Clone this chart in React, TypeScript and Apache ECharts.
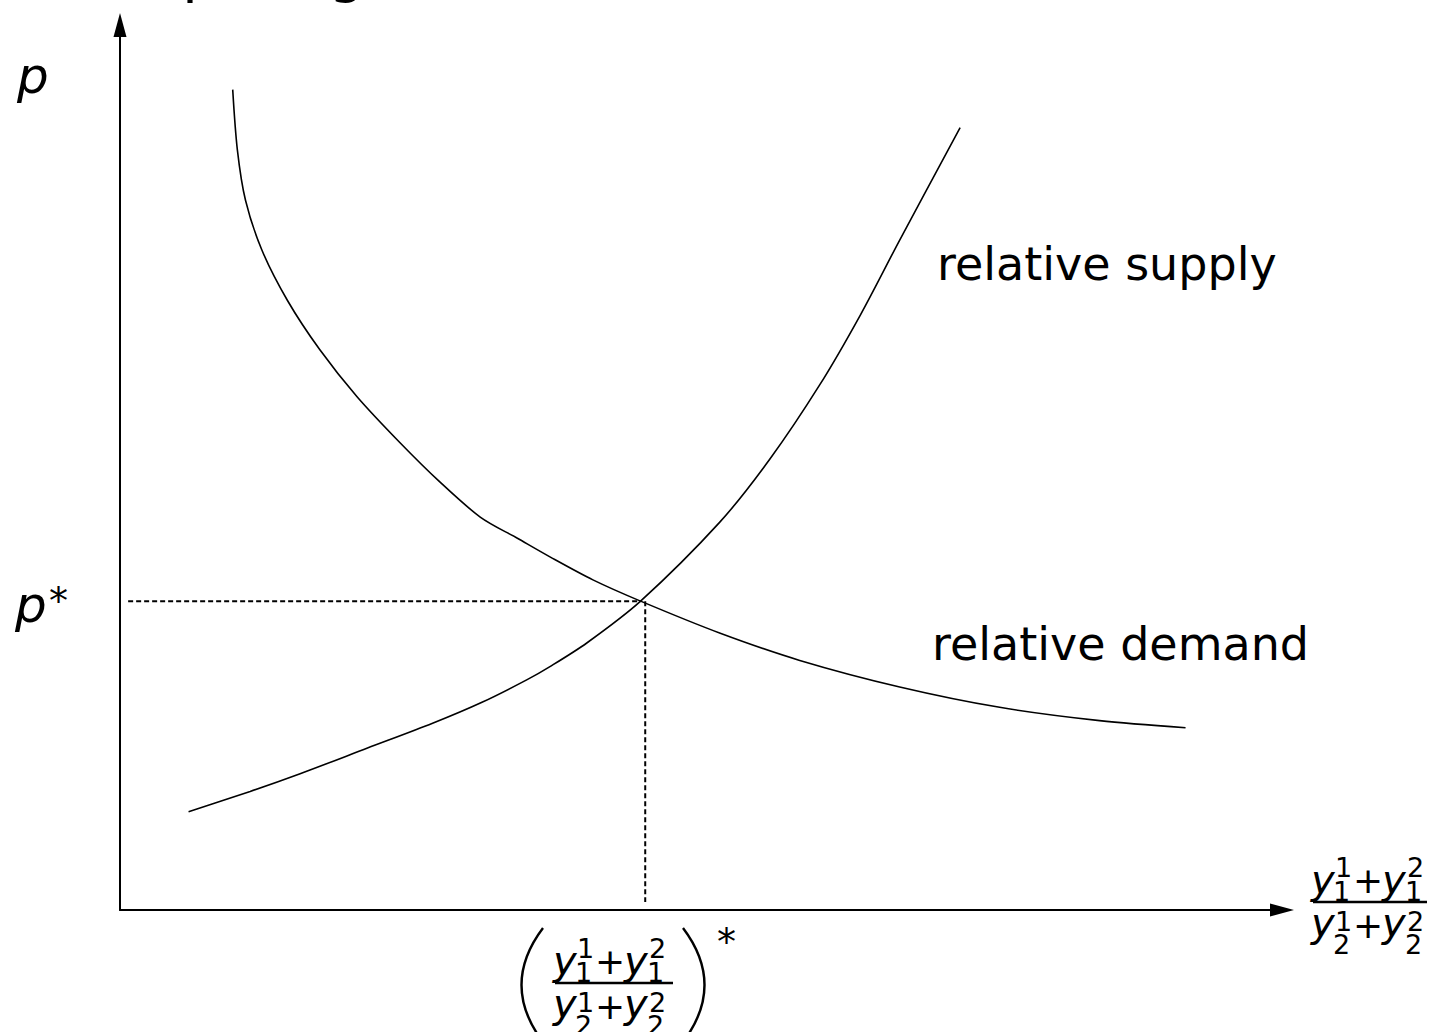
import React, { useEffect, useRef } from "react";
import * as echarts from "echarts";

// Relative demand curve: (relative output, relative price)
const demandX = [9.7, 10.1, 10.8, 12.2, 14.4, 17.2, 20.4, 24.1, 27.5, 31.0, 34.2, 37.0, 40.7, 44.8, 51.6, 58.5, 67.1, 75.7, 84.3, 91.7];
const demandY = [92.7, 85.9, 80.2, 74.6, 68.9, 63.3, 58.0, 52.8, 48.4, 44.4, 42.0, 39.9, 37.3, 34.9, 31.3, 28.2, 25.2, 22.9, 21.4, 20.6];

// Relative supply curve
const supplyX = [5.9, 11.2, 15.5, 21.3, 26.9, 31.2, 35.0, 37.0, 40.2, 44.8, 51.6, 55.9, 60.2, 63.7, 67.1, 72.3];
const supplyY = [11.1, 13.4, 15.4, 18.3, 21.1, 23.5, 26.0, 27.5, 30.2, 34.9, 43.8, 50.9, 59.3, 67.2, 75.7, 88.4];

// Equilibrium price and quantity ratio
const pStar = 34.9;
const eqX = 44.8;
const qStar = 45.2;

const FONT = '"DejaVu Sans", sans-serif';

const txt = (
  text: string,
  x: number,
  y: number,
  size: number,
  italic = false
) => ({
  type: "text",
  x,
  y,
  silent: true,
  style: {
    text,
    fontSize: size,
    fontFamily: FONT,
    fontStyle: italic ? "italic" : "normal",
    fill: "#000",
    align: "left",
    textAlign: "left",
    verticalAlign: "middle",
    textVerticalAlign: "middle",
  },
});

// place text by its alphabetic baseline (central baseline sits ~0.346em above it)
const onBase = (text: string, x: number, base: number, size: number, italic = false) =>
  txt(text, x, base - 0.346 * size, size, italic);

// (y^1_1 + y^2_1) / (y^1_2 + y^2_2)
const fraction = (x0: number, barY: number, barW: number) => {
  const Y = 40;
  const S = 27;
  const P = 36;
  return [
    { type: "rect", silent: true, shape: { x: x0, y: barY - 1.2, width: barW, height: 2.4 }, style: { fill: "#000" } },
    // numerator
    onBase("y", x0 - 2, barY - 8, Y, true),
    onBase("1", x0 + 22, barY - 25, S),
    onBase("1", x0 + 20, barY - 1, S),
    txt("+", x0 + 40, barY - 22, P),
    onBase("y", x0 + 69, barY - 8, Y, true),
    onBase("2", x0 + 94, barY - 25, S),
    onBase("1", x0 + 92, barY - 1, S),
    // denominator
    onBase("y", x0 - 2, barY + 35, Y, true),
    onBase("1", x0 + 22, barY + 29, S),
    onBase("2", x0 + 20, barY + 52, S),
    txt("+", x0 + 40, barY + 23, P),
    onBase("y", x0 + 69, barY + 35, Y, true),
    onBase("2", x0 + 94, barY + 29, S),
    onBase("2", x0 + 92, barY + 52, S),
  ];
};

const App: React.FC = () => {
  const ref = useRef<HTMLDivElement>(null);

  useEffect(() => {
    if (!ref.current) return;
    const chart = echarts.init(ref.current, undefined, { renderer: "svg" });

    const axisCommon = {
      type: "value" as const,
      min: 0,
      max: 100,
      axisTick: { show: false },
      axisLabel: { show: false },
      splitLine: { show: false },
      axisLine: {
        show: true,
        symbol: ["none", "triangle"],
        symbolSize: [13, 24],
        lineStyle: { color: "#000", width: 2 },
      },
    };

    const curveStyle = { color: "#000", width: 1.6 };
    const dashStyle = { color: "#000", width: 2, type: [5, 3] as number[] };

    chart.setOption({
      animation: false,
      backgroundColor: "#fff",
      grid: { left: 120, right: 156, top: 25, bottom: 122 },
      xAxis: axisCommon,
      yAxis: axisCommon,
      series: [
        {
          name: "relative demand",
          type: "line",
          data: demandX.map((x, i) => [x, demandY[i]]),
          showSymbol: false,
          symbol: "none",
          smooth: 0.3,
          lineStyle: curveStyle,
          silent: true,
        },
        {
          name: "relative supply",
          type: "line",
          data: supplyX.map((x, i) => [x, supplyY[i]]),
          showSymbol: false,
          symbol: "none",
          smooth: 0.3,
          lineStyle: curveStyle,
          silent: true,
        },
        {
          name: "p*",
          type: "line",
          data: [
            [0.7, pStar],
            [eqX, pStar],
          ],
          symbol: "none",
          lineStyle: dashStyle,
          silent: true,
        },
        {
          name: "q*",
          type: "line",
          data: [
            [qStar, pStar],
            [qStar, 0.9],
          ],
          symbol: "none",
          lineStyle: dashStyle,
          silent: true,
        },
      ],
      graphic: [
        // slide heading running off the top edge
        onBase("Computing", 52, -9, 57),
        // axis labels
        onBase("p", 17, 93, 50, true),
        onBase("p", 15, 622, 50, true),
        txt("*", 49, 601, 38),
        onBase("relative supply", 937, 280, 46),
        onBase("relative demand", 932, 660, 46),
        ...fraction(1313, 902, 114),
        ...fraction(555, 983, 118),
        // parentheses around the equilibrium ratio
        {
          type: "bezierCurve",
          silent: true,
          shape: { x1: 543, y1: 928, x2: 543, y2: 1042, cpx1: 500, cpy1: 985 },
          style: { stroke: "#000", lineWidth: 2.4, fill: "none" },
        },
        {
          type: "bezierCurve",
          silent: true,
          shape: { x1: 683, y1: 928, x2: 683, y2: 1042, cpx1: 726, cpy1: 985 },
          style: { stroke: "#000", lineWidth: 2.4, fill: "none" },
        },
        txt("*", 717, 942, 38),
      ],
    });

    return () => chart.dispose();
  }, []);

  return (
    <div
      ref={ref}
      style={{ position: "fixed", left: 0, top: 0, width: 1438, height: 1032, background: "#fff" }}
    />
  );
};

export default App;
